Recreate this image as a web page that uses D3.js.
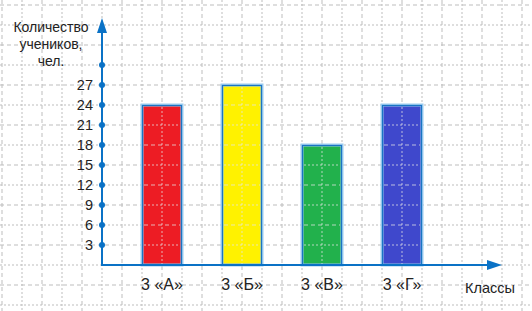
<!DOCTYPE html>
<html>
<head>
<meta charset="utf-8">
<script src="https://cdn.jsdelivr.net/npm/d3@7"></script>
<style>
  body { margin: 0; background: #fff; }
  text { font-family: "Liberation Sans", Arial, sans-serif; }
</style>
</head>
<body>
<svg id="chart" width="532" height="311"></svg>
<script>
// data
var classes = ["3 «А»", "3 «Б»", "3 «В»", "3 «Г»"]
var students = [24, 27, 18, 24]
var barColors = ["#ed1c24", "#fff200", "#22b14c", "#3f48cc"]
var yTicks = [3, 6, 9, 12, 15, 18, 21, 24, 27]
var yDots = [3, 6, 9, 12, 15, 18, 21, 24, 27, 30]

var svg = d3.select("#chart")
var axisColor = "#0a72c6"

var y = d3.scaleLinear().domain([0, 30]).range([265, 65])
var x = d3.scaleBand()
    .domain(classes)
    .range([122, 442])
    .paddingInner(0.5)
    .paddingOuter(0.25)

var x0 = 102 // y axis position

// grid
var grid = svg.append("g")
d3.range(0, 27).forEach(function (i) {
    grid.append("line")
        .attr("x1", 2 + i * 20).attr("x2", 2 + i * 20)
        .attr("y1", 0).attr("y2", 311)
        .attr("stroke", "#bdbdbd")
        .attr("stroke-dasharray", i % 2 ? "2,2" : "4,3")
})
d3.range(-6, 40, 3).forEach(function (v, i) {
    grid.append("line")
        .attr("x1", 0).attr("x2", 532)
        .attr("y1", y(v)).attr("y2", y(v))
        .attr("stroke", "#bdbdbd")
        .attr("stroke-dasharray", i % 2 ? "4,3" : "2,2")
})

// bars
var bars = svg.append("g")
bars.selectAll(".outer")
    .data(students)
    .enter().append("rect")
    .attr("x", function (d, i) { return x(classes[i]) })
    .attr("y", function (d) { return y(d) })
    .attr("width", x.bandwidth())
    .attr("height", function (d) { return y(0) - y(d) })
    .attr("fill", function (d, i) { return barColors[i] })
    .attr("stroke", "#9ccbef")
    .attr("stroke-width", 3)
bars.selectAll(".inner")
    .data(students)
    .enter().append("rect")
    .attr("x", function (d, i) { return x(classes[i]) + 0.5 })
    .attr("y", function (d) { return y(d) + 0.5 })
    .attr("width", x.bandwidth() - 1)
    .attr("height", function (d) { return y(0) - y(d) - 1 })
    .attr("fill", "none")
    .attr("stroke", "#1a75c4")
    .attr("stroke-width", 1.2)

// faint grid over bars
var over = svg.append("g")
students.forEach(function (d, i) {
    var bx = x(classes[i])
    over.append("line")
        .attr("x1", bx + 20).attr("x2", bx + 20)
        .attr("y1", y(d) + 2).attr("y2", y(0) - 1)
        .attr("stroke", "#e6e6e6").attr("stroke-opacity", 0.75)
        .attr("stroke-dasharray", "2,2")
    d3.range(3, d, 3).forEach(function (v, k) {
        over.append("line")
            .attr("x1", bx + 2).attr("x2", bx + x.bandwidth() - 2)
            .attr("y1", y(v)).attr("y2", y(v))
            .attr("stroke", "#e6e6e6").attr("stroke-opacity", 0.75)
            .attr("stroke-dasharray", k % 2 ? "4,3" : "2,2")
    })
})

// axes
svg.append("line")
    .attr("x1", x0).attr("x2", x0)
    .attr("y1", y(0) + 1).attr("y2", 32)
    .attr("stroke", axisColor).attr("stroke-width", 2)
svg.append("path")
    .attr("d", "M" + (x0 - 5) + ",33 L" + x0 + ",18 L" + (x0 + 5) + ",33 Z")
    .attr("fill", axisColor)
svg.append("line")
    .attr("x1", x0 - 1).attr("x2", 488)
    .attr("y1", y(0)).attr("y2", y(0))
    .attr("stroke", axisColor).attr("stroke-width", 2)
svg.append("path")
    .attr("d", "M487," + (y(0) - 5) + " L502," + y(0) + " L487," + (y(0) + 5) + " Z")
    .attr("fill", axisColor)

svg.selectAll(".dot")
    .data(yDots)
    .enter().append("circle")
    .attr("cx", x0)
    .attr("cy", function (d) { return y(d) })
    .attr("r", 3)
    .attr("fill", axisColor)

var yAxis = svg.append("g")
    .attr("transform", "translate(" + (x0 - 9) + ",0)")
    .call(d3.axisLeft(y).tickValues(yTicks).tickSize(0).tickPadding(0))
yAxis.select(".domain").remove()
yAxis.selectAll("text")
    .attr("font-size", 14.5)
    .attr("fill", "#222")
    .attr("font-family", "Liberation Sans, Arial, sans-serif")

var xAxis = svg.append("g")
    .attr("transform", "translate(0,290)")
    .call(d3.axisBottom(x).tickSize(0).tickPadding(0))
xAxis.select(".domain").remove()
xAxis.selectAll("text")
    .attr("y", 0).attr("dy", 0)
    .attr("font-size", 16)
    .attr("fill", "#222")
    .attr("font-family", "Liberation Sans, Arial, sans-serif")

// axis titles
var title = svg.append("text")
    .attr("text-anchor", "middle")
    .attr("font-size", 14)
    .attr("fill", "#222")
;["Количество", "учеников,", "чел."].forEach(function (t, i) {
    title.append("tspan").attr("x", 51).attr("y", 32 + i * 17).text(t)
})
svg.append("text")
    .attr("x", 490).attr("y", 293)
    .attr("text-anchor", "middle")
    .attr("font-size", 14.5)
    .attr("fill", "#222")
    .text("Классы")
</script>
</body>
</html>
